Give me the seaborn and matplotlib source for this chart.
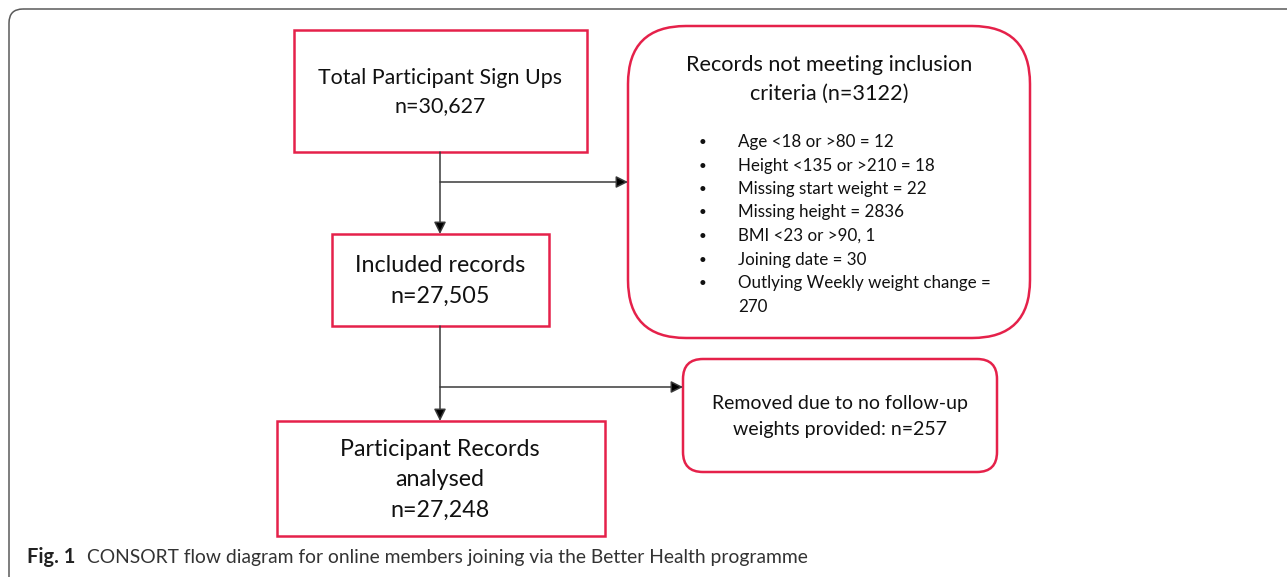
import matplotlib
matplotlib.use("Agg")
import matplotlib.pyplot as plt
import seaborn as sns
from matplotlib.patches import FancyBboxPatch, Rectangle

sns.set_theme(style="white")
plt.rcParams['font.family'] = ['Lato', 'DejaVu Sans']

# flow content
stage_titles = [["Total Participant Sign Ups"], ["Included records"], ["Participant Records", "analysed"]]
stage_counts = ["30,627", "27,505", "27,248"]
excl_title = ["Records not meeting inclusion", "criteria (n=3122)"]
excl_reasons = ["Age <18 or >80 = 12", "Height <135 or >210 = 18",
                "Missing start weight = 22", "Missing height = 2836",
                "BMI <23 or >90, 1", "Joining date = 30",
                "Outlying Weekly weight change =\n270"]
followup_text = ["Removed due to no follow-up", "weights provided: n=257"]
caption_bold = "Fig. 1"
caption_text = "CONSORT flow diagram for online members joining via the Better Health programme"

RED = "#E5214A"
LINE = "#3a3a3a"
INK = "#111111"

fig = plt.figure(figsize=(12.87, 5.77), dpi=100)
ax = fig.add_axes([0, 0, 1, 1])
ax.set_xlim(0, 1287)
ax.set_ylim(577, 0)
ax.axis("off")
renderer = fig.canvas.get_renderer()


def fit_size(s, width, weight="normal"):
    # font size that makes string s about `width` pixels wide
    t = ax.text(0, 0, s, fontsize=10, fontweight=weight)
    w = t.get_window_extent(renderer).width
    t.remove()
    return 10 * width / w


def lines(x, ys, texts, size, ha="center", **kw):
    for y, s in zip(ys, texts):
        ax.text(x, y, s, ha=ha, va="center", fontsize=size, color=INK, **kw)


# outer frame
ax.add_patch(FancyBboxPatch((9, 9), 1300, 590, boxstyle="round,pad=0,rounding_size=14",
                            fc="none", ec="#5a5a5a", lw=1.1))

# stage boxes (x0, y0, x1, y1)
stage_boxes = [(294, 30, 587, 152), (332, 234, 549, 326), (277, 421, 605, 536)]
for (x0, y0, x1, y1) in stage_boxes:
    ax.add_patch(Rectangle((x0, y0), x1 - x0, y1 - y0, fc="white", ec=RED, lw=1.8))

s_small = fit_size(stage_titles[0][0], 243)
s_big = fit_size(stage_titles[2][0], 200)
lines(440, [78, 106], stage_titles[0] + ["n=" + stage_counts[0]], s_small)
lines(440, [266, 296], stage_titles[1] + ["n=" + stage_counts[1]], s_big)
lines(440, [449, 479, 510], stage_titles[2] + ["n=" + stage_counts[2]], s_big)

# exclusion box
ax.add_patch(FancyBboxPatch((628, 26), 402, 312, boxstyle="round,pad=0,rounding_size=58",
                            fc="white", ec=RED, lw=1.8))
lines(829, [65, 94], excl_title, fit_size(excl_title[0], 287))
s_bul = fit_size(excl_reasons[1], 196)
yy = 142
for r in excl_reasons:
    ax.text(703, yy, "•", ha="center", va="center", fontsize=s_bul * 0.8, color=INK)
    parts = r.split("\n")
    for k, p in enumerate(parts):
        ax.text(738, yy + 23.5 * k, p, ha="left", va="center", fontsize=s_bul, color=INK)
    yy += 23.5

# follow-up box
ax.add_patch(FancyBboxPatch((683, 359), 314, 113, boxstyle="round,pad=0,rounding_size=20",
                            fc="white", ec=RED, lw=1.8))
lines(840, [404, 430], followup_text, fit_size(followup_text[0], 257))

# connectors
arrow = dict(arrowstyle="-|>", color=LINE, lw=1.1, mutation_scale=18,
             shrinkA=0, shrinkB=0, fc="black", ec=LINE)
ax.annotate("", xy=(440, 234), xytext=(440, 152), arrowprops=arrow)
ax.annotate("", xy=(628, 182), xytext=(440, 182), arrowprops=arrow)
ax.annotate("", xy=(440, 421), xytext=(440, 326), arrowprops=arrow)
ax.annotate("", xy=(683, 387), xytext=(440, 387), arrowprops=arrow)

# caption
ax.text(27, 557, caption_bold, ha="left", va="center",
        fontsize=fit_size(caption_bold, 48, "bold"), fontweight="bold", color="#222")
ax.text(87, 557, caption_text, ha="left", va="center",
        fontsize=fit_size(caption_text, 723), color="#333")

fig.savefig("out.png", dpi=100)
